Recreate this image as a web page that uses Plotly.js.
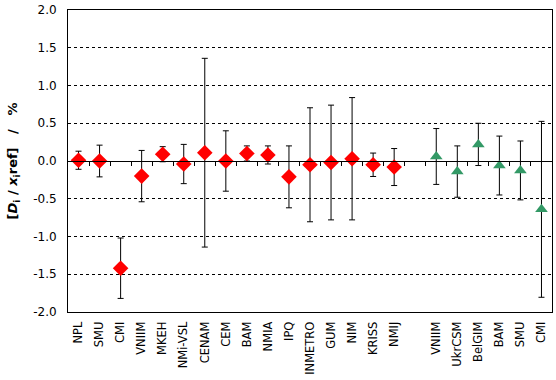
<!DOCTYPE html>
<html>
<head>
<meta charset="utf-8">
<script src="https://cdn.plot.ly/plotly-3.0.1.min.js"></script>
<style>html,body{margin:0;padding:0;background:#fff;}#chart{width:556px;height:380px;}</style>
</head>
<body>
<div id="chart"></div>
<script>
// Category labels (one empty slot between the two groups)
const labels = ["NPL","SMU","CMI","VNIIM","MKEH","NMi-VSL","CENAM","CEM","BAM","NMIA","IPQ","INMETRO","GUM","NIM","KRISS","NMIJ"," ","VNIIM","UkrCSM","BelGIM","BAM","SMU","CMI"];

// Series 1 (red diamonds): slot index, value, expanded uncertainty
const s1Pos = [0,1,2,3,4,5,6,7,8,9,10,11,12,13,14,15];
const s1Val = [0.01,0.00,-1.42,-0.20,0.09,-0.04,0.11,0.00,0.10,0.08,-0.21,-0.05,-0.02,0.03,-0.05,-0.08];
const s1Err = [0.12,0.21,0.40,0.34,0.10,0.26,1.25,0.40,0.10,0.12,0.41,0.755,0.76,0.81,0.155,0.245];

// Series 2 (green triangles)
const s2Pos = [17,18,19,20,21,22];
const s2Val = [0.06,-0.14,0.22,-0.06,-0.125,-0.64];
const s2Err = [0.37,0.34,0.28,0.39,0.39,1.165];

const yTicks = [-2,-1.5,-1,-0.5,0,0.5,1,1.5,2];
const yTickText = ["-2.0","-1.5","-1.0","-0.5","0.0","0.5","1.0","1.5","2.0"];

const xTickVals = labels.map((_, i) => i);
const boundaries = labels.slice(1).map((_, i) => i + 0.5);

const font = {family: "DejaVu Sans, Verdana, sans-serif", size: 12, color: "#000"};

const traces = [
  {
    x: s1Pos, y: s1Val, type: "scatter", mode: "markers",
    marker: {symbol: "diamond", size: 12, color: "#ff0000"},
    error_y: {type: "data", array: s1Err, visible: true, color: "#000", thickness: 1, width: 3},
    showlegend: false, hoverinfo: "skip"
  },
  {
    x: s2Pos, y: s2Val, type: "scatter", mode: "markers",
    marker: {symbol: "triangle-up", size: 11, color: "#339966"},
    error_y: {type: "data", array: s2Err, visible: true, color: "#000", thickness: 1, width: 3},
    showlegend: false, hoverinfo: "skip"
  },
  {
    x: [0], y: [0], xaxis: "x2", yaxis: "y", type: "scatter", mode: "markers",
    marker: {opacity: 0}, showlegend: false, hoverinfo: "skip"
  }
];

const layout = {
  width: 556, height: 380,
  margin: {l: 68, r: 4, t: 10, b: 68},
  paper_bgcolor: "#fff", plot_bgcolor: "#fff",
  font: font,
  showlegend: false,
  xaxis: {
    range: [-0.5, 22.5],
    tickmode: "array", tickvals: xTickVals, ticktext: labels,
    tickangle: -90, ticks: "", showgrid: false, zeroline: false,
    showline: true, linecolor: "#000", linewidth: 1, mirror: true,
    tickfont: {family: font.family, size: 11.5, color: "#000"},
    ticklabelstandoff: 4
  },
  xaxis2: {
    range: [-0.5, 22.5], overlaying: "x", anchor: "free", position: 0.5,
    tickmode: "array", tickvals: boundaries, showticklabels: false,
    ticks: "outside", ticklen: 4, tickcolor: "#000", tickwidth: 1,
    showline: true, linecolor: "#000", linewidth: 1,
    showgrid: false, zeroline: false
  },
  yaxis: {
    range: [-2, 2],
    tickmode: "array", tickvals: yTicks, ticktext: yTickText,
    ticks: "", showgrid: true, gridcolor: "#000", gridwidth: 1, griddash: "3px,3px",
    zeroline: false,
    showline: true, linecolor: "#000", linewidth: 1, mirror: true,
    tickfont: font, ticklabelstandoff: 8,
    title: {text: "<b>[<i>D</i><sub>i</sub> / <i>x</i><sub>i</sub>ref]&nbsp;&nbsp;&nbsp;/&nbsp;&nbsp;&nbsp;%</b>", font: {family: font.family, size: 13, color: "#000"}, standoff: 12}
  }
};

Plotly.newPlot("chart", traces, layout, {staticPlot: true, displayModeBar: false});
</script>
</body>
</html>
